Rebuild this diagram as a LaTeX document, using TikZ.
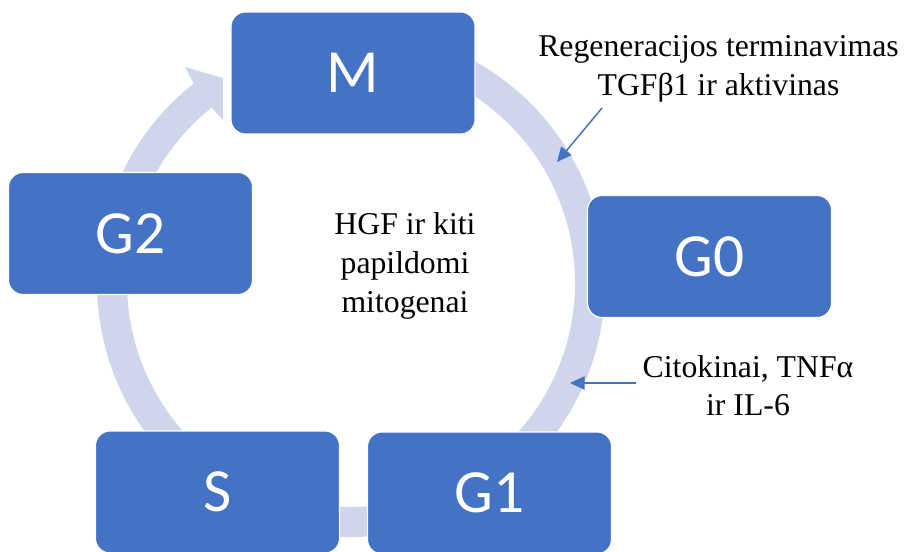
\documentclass[tikz,border=0pt]{standalone}
\usepackage{fontspec}
\setmainfont{Liberation Serif}
\newfontfamily\phasefont{Carlito}
\usetikzlibrary{arrows.meta}
\definecolor{phaseblue}{HTML}{4472C4}
\definecolor{ringblue}{HTML}{CFD5EA}
\tikzset{
  >={Triangle[length=11pt,width=10pt]},
  phase/.style={draw=white,line width=0.8pt,fill=phaseblue,rounded corners=11pt,
    minimum width=183pt,minimum height=91.5pt,text=white,
    font=\phasefont\fontsize{46}{50}\selectfont},
  ringline/.style={ringblue,line width=22.5pt},
  lbl/.style={align=center,font=\fontsize{23.8}{29}\selectfont,inner sep=0pt},
  callout/.style={->,phaseblue,line width=1.1pt},
}
\begin{document}
\begin{tikzpicture}[x=0.75pt,y=-0.75pt]
  \useasboundingbox (0,0) rectangle (905,552);
  \clip (0,0) rectangle (905,552);
  % cycle ring
  \draw[ringline] (351,283) ++(-100:239) arc[start angle=-100,end angle=232,radius=239];
  \fill[ringblue] (194.5,85) -- (185,67) -- (223,78) -- (223,120) -- (213,109) -- cycle;
  % phases
  \node[phase] (m) at (353,73) {M};
  \node[phase] (g0) at (709.5,256.5) {G0};
  \node[phase] (g1) at (489.5,493) {G1};
  \node[phase] (s) at (217.5,492) {S};
  \node[phase] (g2) at (130.5,233.5) {G2};
  % labels
  \node[lbl] (hgf) at (405,266) {HGF ir kiti\\papildomi\\mitogenai};
  \node[lbl] (regen) at (718.5,69) {Regeneracijos terminavimas\\TGFβ1 ir aktivinas};
  \node[lbl] (cito) at (748,385.5) {Citokinai, TNFα\\ir IL-6};
  \coordinate (regenfrom) at (602,108);
  \coordinate (regento) at (557,162);
  \coordinate (citofrom) at (636,383);
  \coordinate (citoto) at (570,383);
  \draw[callout] (regenfrom) -- (regento);
  \draw[callout] (citofrom) -- (citoto);
\end{tikzpicture}
\end{document}
